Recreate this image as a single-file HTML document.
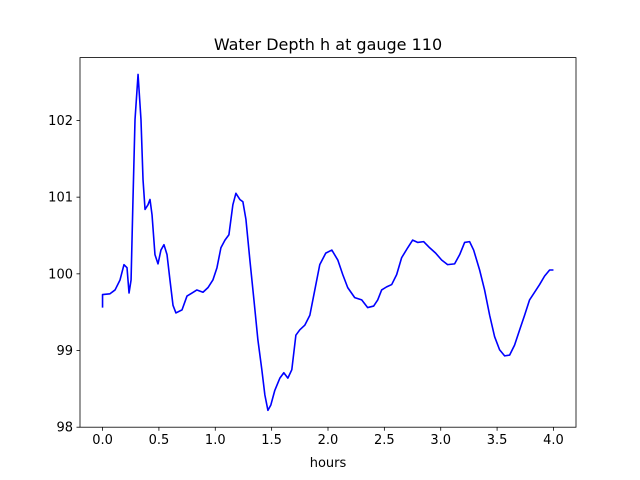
<!DOCTYPE html>
<html><head><meta charset="utf-8"><style>
body{margin:0;background:#fff;}
svg{display:block;font-family:"DejaVu Sans","Liberation Sans",sans-serif;}
</style></head><body>
<svg id="chart" width="640" height="480"></svg>
<script>
const hours=[0,0,0.066,0.111,0.155,0.19,0.217,0.235,0.253,0.27,0.288,0.315,0.341,0.359,0.377,0.403,0.421,0.439,0.465,0.492,0.518,0.545,0.572,0.598,0.625,0.651,0.705,0.749,0.793,0.837,0.891,0.935,0.979,1.015,1.05,1.086,1.121,1.156,1.183,1.218,1.245,1.272,1.307,1.343,1.378,1.413,1.44,1.467,1.493,1.528,1.573,1.608,1.644,1.679,1.715,1.75,1.794,1.839,1.883,1.927,1.98,2.034,2.087,2.131,2.175,2.237,2.299,2.352,2.405,2.441,2.476,2.52,2.565,2.609,2.653,2.707,2.751,2.795,2.849,2.902,2.955,3.008,3.061,3.123,3.168,3.212,3.256,3.292,3.345,3.389,3.434,3.478,3.522,3.567,3.611,3.655,3.7,3.744,3.788,3.833,3.877,3.921,3.966,4.0];
const depth=[99.56,99.73,99.74,99.79,99.92,100.12,100.08,99.75,99.92,100.97,102.01,102.6,102.01,101.23,100.84,100.9,100.97,100.77,100.25,100.13,100.31,100.38,100.25,99.92,99.59,99.49,99.53,99.71,99.75,99.79,99.76,99.82,99.92,100.08,100.34,100.44,100.51,100.9,101.05,100.97,100.94,100.71,100.18,99.66,99.14,98.75,98.42,98.22,98.29,98.48,98.64,98.71,98.64,98.75,99.2,99.27,99.33,99.46,99.79,100.12,100.27,100.31,100.18,99.99,99.82,99.69,99.66,99.56,99.58,99.66,99.79,99.83,99.86,99.99,100.21,100.34,100.44,100.41,100.42,100.34,100.27,100.18,100.12,100.13,100.25,100.41,100.42,100.31,100.05,99.79,99.46,99.18,99.01,98.93,98.94,99.07,99.27,99.46,99.66,99.76,99.86,99.97,100.05,100.05];
const xTicks=[0,0.5,1,1.5,2,2.5,3,3.5,4];
const xTickLabels=["0.0","0.5","1.0","1.5","2.0","2.5","3.0","3.5","4.0"];
const yTicks=[98,99,100,101,102];
const yTickLabels=["98","99","100","101","102"];

const L=80,R=576,T=57.6,B=427.2;
const xMin=-0.2,xMax=4.2,yMin=98,yMax=102.82;
const sx=v=>L+(v-xMin)/(xMax-xMin)*(R-L);
const sy=v=>B-(v-yMin)/(yMax-yMin)*(B-T);
const svg=document.getElementById('chart');
const NS='http://www.w3.org/2000/svg';
function mk(tag,attrs,parent){const e=document.createElementNS(NS,tag);for(const k in attrs)e.setAttribute(k,attrs[k]);(parent||svg).appendChild(e);return e;}

const line=mk('polyline',{points:hours.map((h,i)=>sx(h)+','+sy(depth[i])).join(' '),fill:'none',stroke:'#0000ff','stroke-width':1.6,'stroke-linejoin':'round'});



const frame=mk('rect',{x:L,y:T,width:R-L,height:B-T,fill:'none',stroke:'#000','stroke-width':0.8});



xTicks.forEach((t,i)=>{
  const x=sx(t);
  const tk=mk('line',{x1:x,x2:x,y1:B,y2:B+3.5,stroke:'#000','stroke-width':0.8});
  
  
  const tx=mk('text',{x:x,y:B+17,'text-anchor':'middle','font-size':'13px',fill:'#000'});
  tx.textContent=xTickLabels[i];
  
  
});
yTicks.forEach((t,i)=>{
  const y=sy(t);
  const tk=mk('line',{x1:L-3.5,x2:L,y1:y,y2:y,stroke:'#000','stroke-width':0.8});
  
  
  const tx=mk('text',{x:L-7,y:y+4.5,'text-anchor':'end','font-size':'13px',fill:'#000'});
  tx.textContent=yTickLabels[i];
  
  
});
const xl=mk('text',{x:(L+R)/2,y:467,'text-anchor':'middle','font-size':'13px',fill:'#000'});
xl.textContent='hours';


const ti=mk('text',{x:(L+R)/2,y:50,'text-anchor':'middle','font-size':'16px',fill:'#000'});
ti.textContent='Water Depth h at gauge 110';


</script>
</body></html>
